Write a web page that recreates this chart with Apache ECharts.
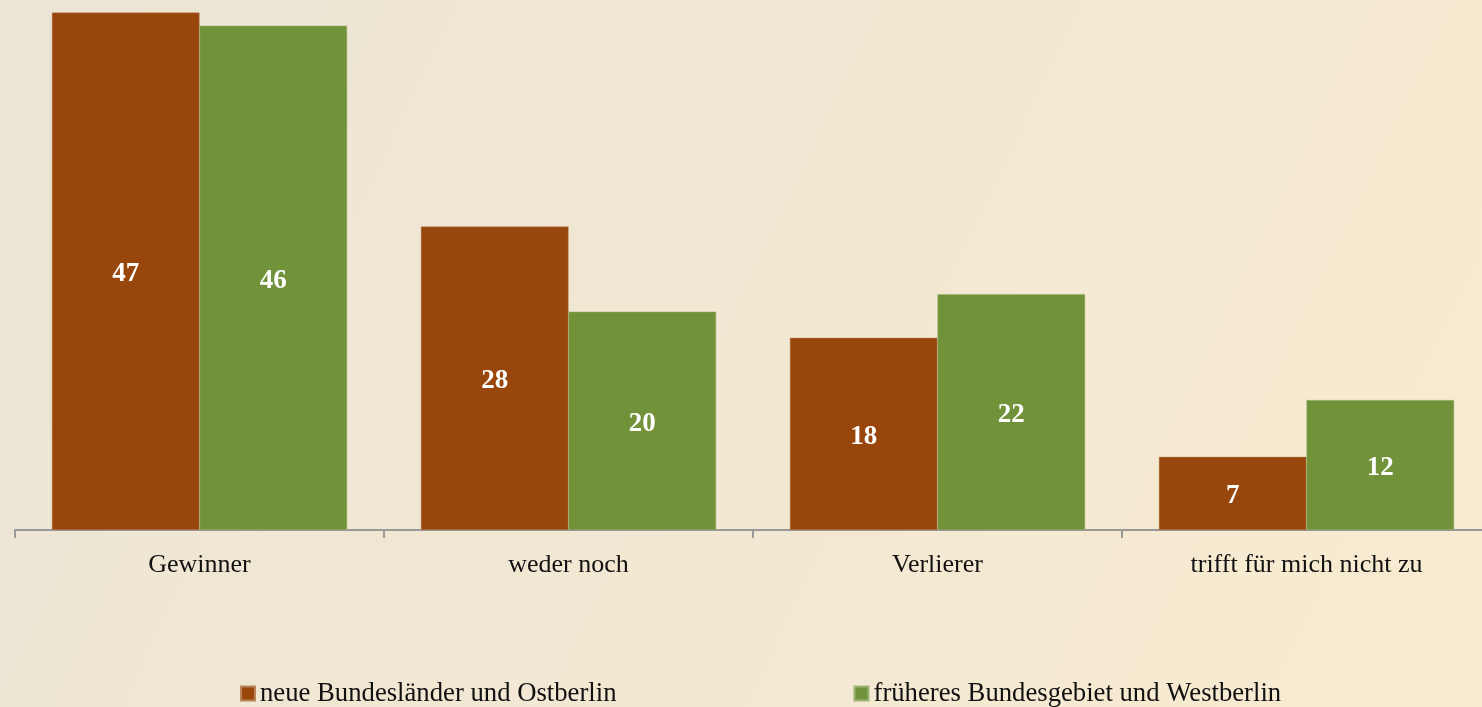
<!DOCTYPE html>
<html>
<head>
<meta charset="utf-8">
<script src="https://cdn.jsdelivr.net/npm/echarts@6/dist/echarts.min.js"></script>
<style>
  html, body { margin: 0; padding: 0; }
  #chart { width: 1482px; height: 707px; }
</style>
</head>
<body>
<div id="chart"></div>
<script>
  const categories = ["Gewinner", "weder noch", "Verlierer", "trifft für mich nicht zu"];
  const seriesNames = ["neue Bundesländer und Ostberlin", "früheres Bundesgebiet und Westberlin"];
  const ostValues = [47.4, 27.8, 17.6, 6.7];
  const westValues = [46.2, 20.0, 21.6, 11.9];

  const font = '"Liberation Serif", "Times New Roman", serif';

  const chart = echarts.init(document.getElementById("chart"));

  const labelStyle = {
    show: true,
    position: "inside",
    offset: [0, 3],
    color: "#fff",
    fontWeight: "bold",
    fontSize: 27,
    fontFamily: font,
    formatter: (p) => Math.round(p.value)
  };

  chart.setOption({
    backgroundColor: new echarts.graphic.LinearGradient(0, 0, 1, 1, [
      { offset: 0, color: "#ECE5D5" },
      { offset: 1, color: "#F8EBD0" }
    ]),
    animation: false,
    grid: { left: 15, width: 1476, top: 6, bottom: 177, outerBoundsMode: "none" },
    legend: {
      bottom: 0,
      left: 240,
      padding: 0,
      itemWidth: 14,
      itemHeight: 14,
      itemGap: 237,
      icon: "rect",
      textStyle: { fontSize: 26.7, fontFamily: font, color: "#111" },
      data: seriesNames
    },
    xAxis: {
      type: "category",
      data: categories,
      axisLine: { lineStyle: { color: "#999", width: 2 } },
      axisTick: { show: true, length: 8, lineStyle: { color: "#999", width: 2 } },
      axisLabel: { margin: 22, fontSize: 26, fontFamily: font, color: "#111" }
    },
    yAxis: {
      type: "value",
      min: 0,
      max: 48,
      show: false,
      splitLine: { show: false }
    },
    series: [
      {
        name: seriesNames[0],
        type: "bar",
        data: ostValues,
        barGap: 0,
        barCategoryGap: "20%",
        itemStyle: { color: "#98460C", borderColor: "#B8845A", borderWidth: 0.5 },
        label: labelStyle
      },
      {
        name: seriesNames[1],
        type: "bar",
        data: westValues,
        itemStyle: { color: "#719238", borderColor: "#9DB377", borderWidth: 0.5 },
        label: labelStyle
      }
    ]
  });

  window.onresize = function () {
    chart.resize();
  };
</script>
</body>
</html>
